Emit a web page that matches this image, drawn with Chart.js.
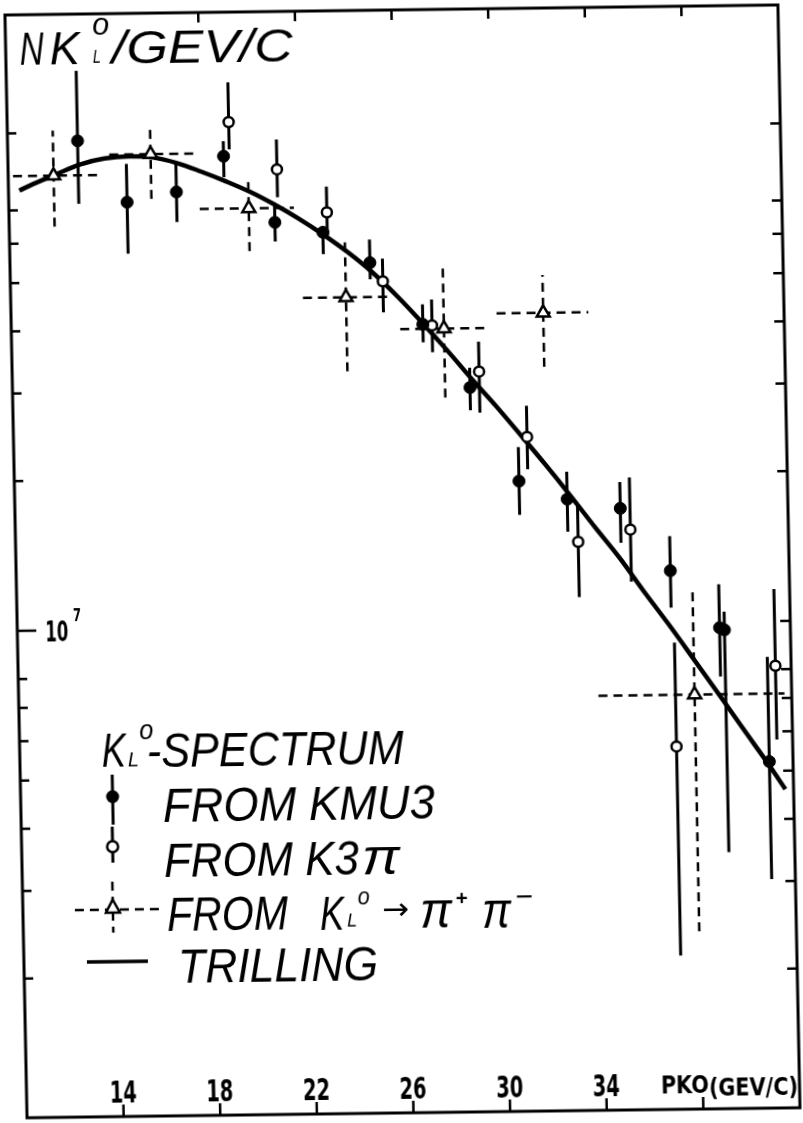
<!DOCTYPE html>
<html><head><meta charset="utf-8">
<style>
html,body{margin:0;padding:0;background:#fff;}
#wrap{width:803px;height:1123px;overflow:hidden;position:relative;background:#fff;}
#c{display:block;transform:matrix(1,-0.013,0.02,1,0,0);transform-origin:401.5px 561.5px;}
</style>
<script src="https://cdn.jsdelivr.net/npm/chart.js@4.4.0/dist/chart.umd.min.js"></script>
</head><body><div id="wrap"><canvas id="c" width="803" height="1123"></canvas></div>
<script>
// ---- data ----
const kmu3P  = [12.9, 14.9, 16.95, 18.93, 21.0, 22.98, 24.9, 27.04, 28.94, 30.89, 32.87, 35.06, 37.08, 39.07, 39.27, 41.02];
const kmu3V  = [9.62e7, 7.22e7, 7.55e7, 8.88e7, 6.52e7, 6.21e7, 5.38e7, 4.03e7, 3.00e7, 1.94e7, 1.78e7, 1.70e7, 1.27e7, 9.73e6, 9.63e6, 5.22e6];
const kmu3Lo = [7.19e7, 5.69e7, 6.57e7, 8.06e7, 5.97e7, 5.61e7, 4.98e7, 3.71e7, 2.70e7, 1.66e7, 1.53e7, 1.45e7, 1.07e7, 7.76e6, 3.44e6, 3.03e6];
const kmu3Hi = [1.33e8, 8.62e7, 8.59e7, 9.52e7, 7.02e7, 6.38e7, 5.99e7, 4.42e7, 3.29e7, 2.27e7, 2.02e7, 1.92e7, 1.49e7, 1.19e7, 1.047e7, 8.47e6];

const k3piP  = [19.17, 21.13, 23.16, 25.42, 27.42, 29.33, 31.26, 33.29, 35.46, 37.19, 41.35];
const k3piV  = [1.04e8, 8.33e7, 6.81e7, 4.93e7, 4.01e7, 3.23e7, 2.38e7, 1.46e7, 1.54e7, 5.63e6, 8.13e6];
const k3piLo = [9.17e7, 7.32e7, 6.09e7, 4.27e7, 3.54e7, 2.67e7, 2.05e7, 1.13e7, 1.21e7, 2.14e6, 5.78e6];
const k3piHi = [1.25e8, 9.57e7, 7.67e7, 5.48e7, 4.52e7, 3.71e7, 2.75e7, 1.735e7, 1.96e7, 9.11e6, 1.16e7];

const pipiP   = [11.88, 15.91, 19.93, 23.88, 27.91, 32.03, 37.98];
const pipiV   = [8.2e7, 9.01e7, 6.97e7, 4.59e7, 3.95e7, 4.22e7, 7.15e6];
const pipiLo  = [6.48e7, 7.32e7, 5.72e7, 3.26e7, 2.87e7, 3.29e7, 2.39e6];
const pipiHi  = [1.01e8, 1.026e8, 8.04e7, 5.92e7, 5.23e7, 5.03e7, 1.15e7];
const pipiPLo = [10.2, 14.2, 17.9, 22.1, 26.1, 30.1, 34.0];
const pipiPHi = [13.8, 17.9, 21.8, 25.7, 29.7, 33.9, 41.7];

const trillP = [10.45, 11, 12, 13, 14, 15, 16, 17, 18, 19, 20, 21, 22, 23, 24, 25, 26, 27, 28, 29, 30, 31, 32, 33, 34, 35, 36, 37, 38, 39, 40, 41, 41.66];
const trillV = [7.67e7, 7.89e7, 8.26e7, 8.63e7, 8.85e7, 8.93e7, 8.87e7, 8.63e7, 8.28e7, 7.91e7, 7.52e7, 7.08e7, 6.62e7, 6.14e7, 5.65e7, 5.14e7, 4.60e7, 4.07e7, 3.58e7, 3.13e7, 2.75e7, 2.40e7, 2.09e7, 1.81e7, 1.56e7, 1.35e7, 1.15e7, 9.86e6, 8.39e6, 7.13e6, 6.05e6, 5.14e6, 4.59e6];

const yTicks = [2e6, 3e6, 4e6, 5e6, 6e6, 7e6, 8e6, 1e7, 2e7, 3e7, 4e7, 5e7, 6e7, 7e7, 1e8];
const xTicksBottom = [14, 18, 22, 26, 30, 34, 38];
const xTicksTop = [18, 22, 26, 30, 34, 38];
const xTickLabels = ['14', '18', '22', '26', '30', '34'];
const xAxisTitle = ['PKO', '(GEV/C)'];

// ---- helpers building library datasets ----
function pts(xs, ys) { return xs.map((x, i) => ({x: x, y: ys[i]})); }
function vBars(xs, lo, hi) {
  const out = [];
  xs.forEach((x, i) => { out.push({x: x, y: lo[i]}, {x: x, y: hi[i]}, {x: x, y: null}); });
  return out;
}
function hBars(xlo, xhi, ys) {
  const out = [];
  ys.forEach((y, i) => { out.push({x: xlo[i], y: y}, {x: xhi[i], y: y}, {x: xhi[i], y: null}); });
  return out;
}

const SANS = '"Liberation Sans", Arial, sans-serif';
const COND = '"DejaVu Sans Condensed", "DejaVu Sans", sans-serif';

function fitText(ctx, s, x, yBase, font, width, align) {
  ctx.font = font;
  const m = ctx.measureText(s).width;
  ctx.save();
  ctx.translate(x, yBase);
  ctx.scale(width / m, 1);
  ctx.textAlign = align || 'left';
  ctx.textBaseline = 'alphabetic';
  ctx.fillText(s, 0, 0);
  ctx.restore();
}
function seg(ctx, x1, y1, x2, y2) { ctx.beginPath(); ctx.moveTo(x1, y1); ctx.lineTo(x2, y2); ctx.stroke(); }

const decor = {
  id: 'decor',
  afterDraw(chart) {
    const ctx = chart.ctx, a = chart.chartArea;
    const xs = chart.scales.x, ys = chart.scales.y;
    ctx.save();
    ctx.strokeStyle = '#000'; ctx.fillStyle = '#000';
    ctx.lineCap = 'butt';
    // frame
    ctx.lineWidth = 3;
    ctx.strokeRect(a.left, a.top, a.right - a.left, a.bottom - a.top);
    // ticks
    ctx.lineWidth = 2.5;
    yTicks.forEach(v => {
      const y = ys.getPixelForValue(v);
      seg(ctx, a.left, y, a.left + (v === 1e7 ? 19 : 9), y);
      seg(ctx, a.right, y, a.right - 10, y);
    });
    xTicksBottom.forEach(v => { const x = xs.getPixelForValue(v); seg(ctx, x, a.bottom, x, a.bottom - 12); });
    xTicksTop.forEach(v => { const x = xs.getPixelForValue(v); seg(ctx, x, a.top, x, a.top + 10); });
    // x tick labels
    xTickLabels.forEach((s, i) => {
      const x = xs.getPixelForValue(xTicksBottom[i]);
      fitText(ctx, s, x, a.bottom - 14, 'bold 30px ' + COND, 27, 'center');
    });
    const x38 = xs.getPixelForValue(38);
    fitText(ctx, xAxisTitle[0], x38 - 42, a.bottom - 16, 'bold 24px ' + COND, 48, 'left');
    fitText(ctx, xAxisTitle[1], x38 + 6, a.bottom - 13, 'bold 24px ' + COND, 89, 'left');
    // y label 10^7
    const y7 = ys.getPixelForValue(1e7);
    fitText(ctx, '10', a.left + 28, y7 + 11, 'bold 28px ' + COND, 23, 'left');
    fitText(ctx, '7', a.left + 56, y7 - 9, 'bold 18px ' + COND, 8, 'left');
    // title
    fitText(ctx, 'N', 30, 60, 'italic 46px ' + SANS, 24, 'left');
    fitText(ctx, 'K', 60, 60, 'italic 46px ' + SANS, 30, 'left');
    fitText(ctx, 'o', 103, 31, 'italic 32px ' + SANS, 17, 'left');
    fitText(ctx, 'L', 103, 59, 'italic 18px ' + SANS, 8, 'left');
    fitText(ctx, '/GEV/C', 122, 60, 'italic 46px ' + SANS, 181, 'left');
    // legend text
    const LF = 'italic 48px ' + SANS;
    fitText(ctx, 'K', 98, 763, LF, 24, 'left');
    fitText(ctx, 'o', 136, 736, 'italic 28px ' + SANS, 14, 'left');
    fitText(ctx, 'L', 124, 763, 'italic 20px ' + SANS, 11, 'left');
    fitText(ctx, '-SPECTRUM', 143, 764, LF, 257, 'left');
    fitText(ctx, 'FROM KMU3', 158, 819, LF, 272, 'left');
    fitText(ctx, 'FROM K3', 158, 874, LF, 195, 'left');
    fitText(ctx, 'π', 356, 874, 'italic 50px ' + SANS, 38, 'left');
    fitText(ctx, 'FROM', 160, 928, LF, 121, 'left');
    fitText(ctx, 'K', 313, 929, LF, 24, 'left');
    fitText(ctx, 'o', 351, 904, 'italic 24px ' + SANS, 12, 'left');
    fitText(ctx, 'L', 340, 926, 'italic 18px ' + SANS, 10, 'left');
    fitText(ctx, '→', 375, 919, '30px "DejaVu Sans", sans-serif', 27, 'left');
    fitText(ctx, 'π', 413, 928, 'italic 50px ' + SANS, 32, 'left');
    fitText(ctx, '+', 449, 906, 'bold 20px ' + SANS, 12, 'left');
    fitText(ctx, 'π', 475, 929, 'italic 50px ' + SANS, 29, 'left');
    fitText(ctx, '−', 509, 905, 'bold 20px ' + SANS, 17, 'left');
    fitText(ctx, 'TRILLING', 170, 980, LF, 200, 'left');
    // legend symbols
    ctx.lineWidth = 3;
    seg(ctx, 108, 771, 108, 821);
    ctx.beginPath(); ctx.arc(108, 793, 6.5, 0, Math.PI * 2); ctx.fill();
    seg(ctx, 107, 823, 107, 859);
    ctx.beginPath(); ctx.arc(107, 843, 5.5, 0, Math.PI * 2);
    ctx.fillStyle = '#fff'; ctx.fill(); ctx.lineWidth = 2.5; ctx.stroke(); ctx.fillStyle = '#000';
    ctx.setLineDash([9, 6]); ctx.lineWidth = 2.5;
    seg(ctx, 106, 878, 106, 929);
    seg(ctx, 68, 906, 156, 906);
    ctx.setLineDash([]);
    ctx.beginPath(); ctx.moveTo(106, 896); ctx.lineTo(113, 909); ctx.lineTo(99, 909); ctx.closePath();
    ctx.fillStyle = '#fff'; ctx.fill(); ctx.stroke(); ctx.fillStyle = '#000';
    ctx.lineWidth = 3.5;
    seg(ctx, 79, 958, 140, 958);
    ctx.restore();
  }
};

new Chart(document.getElementById('c'), {
  type: 'scatter',
  data: {
    datasets: [
      { label: 'TRILLING', data: pts(trillP, trillV), showLine: true, borderColor: '#000', borderWidth: 4.5,
        pointRadius: 0, tension: 0.35, order: 6 },
      { label: 'pipi v', data: vBars(pipiP, pipiLo, pipiHi), showLine: true, borderColor: '#000', borderWidth: 2.5,
        borderDash: [9, 6], pointRadius: 0, spanGaps: false, order: 5 },
      { label: 'pipi h', data: hBars(pipiPLo, pipiPHi, pipiV), showLine: true, borderColor: '#000', borderWidth: 2.5,
        borderDash: [9, 6], pointRadius: 0, spanGaps: false, order: 5 },
      { label: 'kmu3 err', data: vBars(kmu3P, kmu3Lo, kmu3Hi), showLine: true, borderColor: '#000', borderWidth: 3,
        pointRadius: 0, spanGaps: false, order: 4 },
      { label: 'k3pi err', data: vBars(k3piP, k3piLo, k3piHi), showLine: true, borderColor: '#000', borderWidth: 3,
        pointRadius: 0, spanGaps: false, order: 4 },
      { label: 'FROM K0L -> pi+ pi-', data: pts(pipiP, pipiV), pointStyle: 'triangle', pointRadius: 7.5,
        pointBackgroundColor: '#fff', pointBorderColor: '#000', pointBorderWidth: 2.5, order: 2 },
      { label: 'FROM K3PI', data: pts(k3piP, k3piV), pointStyle: 'circle', pointRadius: 5,
        pointBackgroundColor: '#fff', pointBorderColor: '#000', pointBorderWidth: 2.5, order: 1 },
      { label: 'FROM KMU3', data: pts(kmu3P, kmu3V), pointStyle: 'circle', pointRadius: 6,
        pointBackgroundColor: '#000', pointBorderColor: '#000', pointBorderWidth: 1, order: 0 }
    ]
  },
  options: {
    responsive: false,
    animation: false,
    devicePixelRatio: 1,
    events: [],
    layout: { padding: { left: 16, right: 14, top: 10, bottom: 8 } },
    plugins: { legend: { display: false }, tooltip: { enabled: false } },
    scales: {
      x: { type: 'linear', min: 10, max: 42, display: false },
      y: { type: 'logarithmic', min: 1.05e6, max: 1.73e8, display: false }
    }
  },
  plugins: [decor]
});
</script>
</body></html>
